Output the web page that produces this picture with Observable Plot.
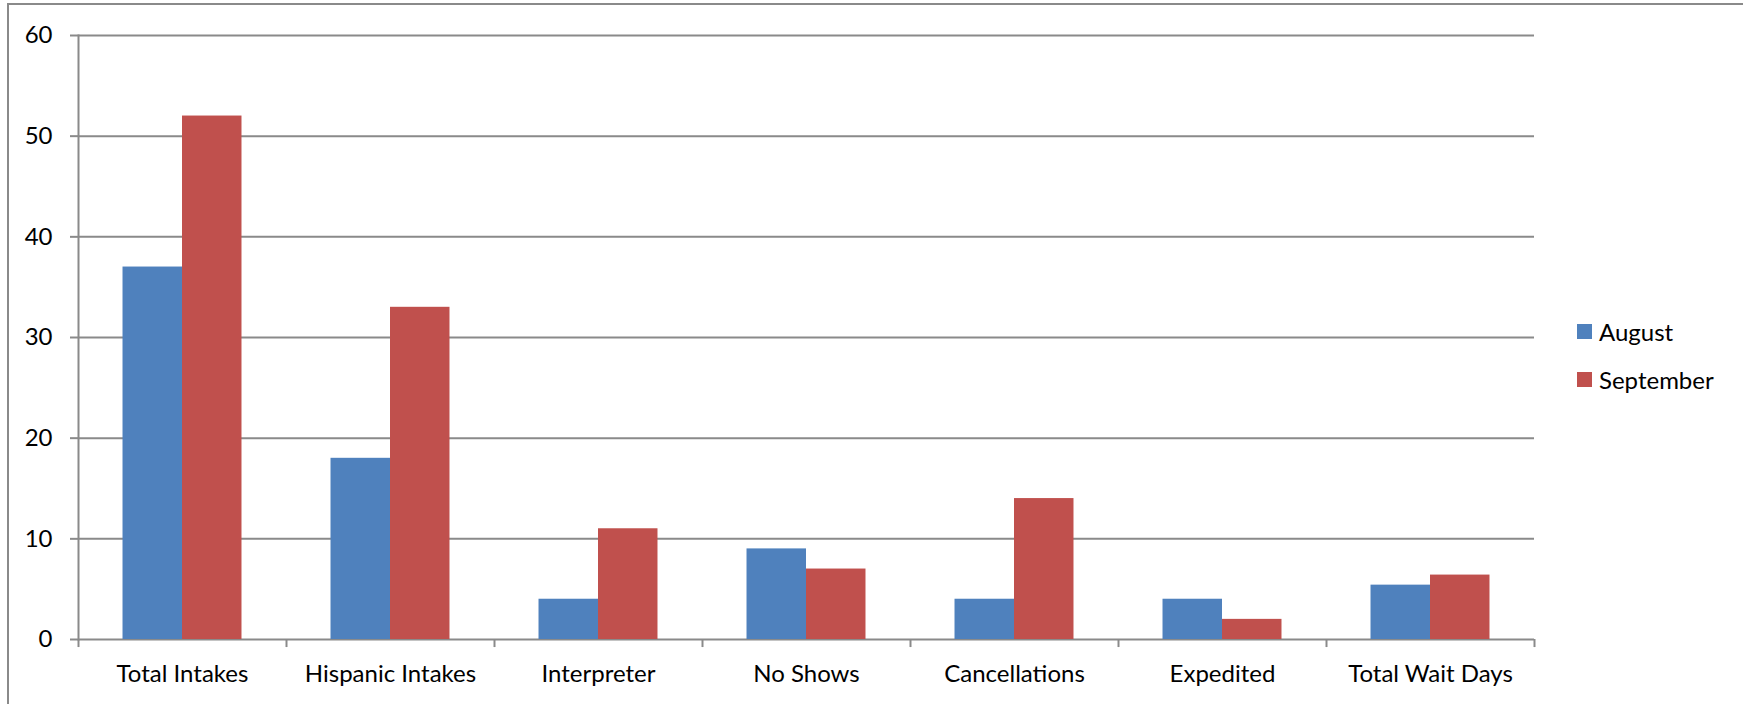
<!DOCTYPE html>
<html>
<head>
<meta charset="utf-8">
<script src="https://cdn.jsdelivr.net/npm/d3@7"></script>
<script src="https://cdn.jsdelivr.net/npm/@observablehq/plot@0.6"></script>
<style>
  html, body { margin: 0; padding: 0; background: #fff; }
  #wrap { position: relative; width: 1743px; height: 704px; overflow: hidden; font-family: Lato, sans-serif; }
  #border { position: absolute; left: 7px; top: 3px; width: 2000px; height: 1000px; border-left: 2px solid #8a8a8a; border-top: 2px solid #8a8a8a; pointer-events: none; }
  .legend { position: absolute; left: 1577px; font-family: Lato, sans-serif; font-size: 24px; color: #000; display: flex; align-items: center; white-space: nowrap; }
  .legend .sw { width: 15px; height: 15px; margin-right: 7px; }
</style>
</head>
<body>
<div id="wrap">
  <div id="chart"></div>
  <div id="border"></div>
  <div id="legend"></div>
</div>
<script>
const categories = ["Total Intakes", "Hispanic Intakes", "Interpreter", "No Shows", "Cancellations", "Expedited", "Total Wait Days"];
const series = ["August", "September"];
const august = [37, 18, 4, 9, 4, 4, 5.4];
const september = [52, 33, 11, 7, 14, 2, 6.4];
const yTicks = [0, 10, 20, 30, 40, 50, 60];
const colors = ["#4F81BD", "#C0504D"];

const data = [];
categories.forEach((c, i) => {
  data.push({category: c, series: "August", value: august[i]});
  data.push({category: c, series: "September", value: september[i]});
});

const W = 1743, H = 704;
const mL = 78, mR = 209, mT = 35, mB = 65;
const step = (W - mL - mR) / categories.length;
const outer = step * 0.214;
const half = step / 2;
const gridColor = "#8a8a8a";

const chart = Plot.plot({
  width: W,
  height: H,
  marginLeft: mL,
  marginRight: mR,
  marginTop: mT,
  marginBottom: mB,
  style: {fontFamily: "Lato, sans-serif", fontSize: "24px", color: "#000", background: "transparent"},
  x: {domain: categories, padding: 0, label: null},
  y: {domain: [0, 60], label: null},
  color: {domain: series, range: colors},
  marks: [
    Plot.gridY(yTicks, {stroke: gridColor, strokeOpacity: 1, strokeWidth: 2}),
    Plot.frame({anchor: "left", stroke: gridColor, strokeWidth: 2}),
    Plot.axisY(yTicks, {tickSize: 8, tickPadding: 18, stroke: gridColor, strokeWidth: 2, fill: "#000", fontSize: 24, label: null, tickFormat: d => d}),
    Plot.axisX({tickSize: 0, tickPadding: 25, fill: "#000", fontSize: 24, label: null}),
    Plot.ruleX(categories, {x: d => d, dx: -half, y1: 0, y2: -0.8, stroke: gridColor, strokeWidth: 2}),
    Plot.ruleX(categories.slice(-1), {x: d => d, dx: half, y1: 0, y2: -0.8, stroke: gridColor, strokeWidth: 2}),
    Plot.barY(data.filter(d => d.series === "August"), {x: "category", y: "value", fill: "series", insetLeft: outer, insetRight: half}),
    Plot.barY(data.filter(d => d.series === "September"), {x: "category", y: "value", fill: "series", insetLeft: half, insetRight: outer})
  ]
});
document.getElementById("chart").appendChild(chart);

const legend = document.getElementById("legend");
const legendTops = [316, 364];
series.forEach((s, i) => {
  const row = document.createElement("div");
  row.className = "legend";
  row.style.top = legendTops[i] + "px";
  row.style.height = "30px";
  const sw = document.createElement("div");
  sw.className = "sw";
  sw.style.background = colors[i];
  const t = document.createElement("span");
  t.textContent = s;
  row.appendChild(sw);
  row.appendChild(t);
  legend.appendChild(row);
});
</script>
</body>
</html>
